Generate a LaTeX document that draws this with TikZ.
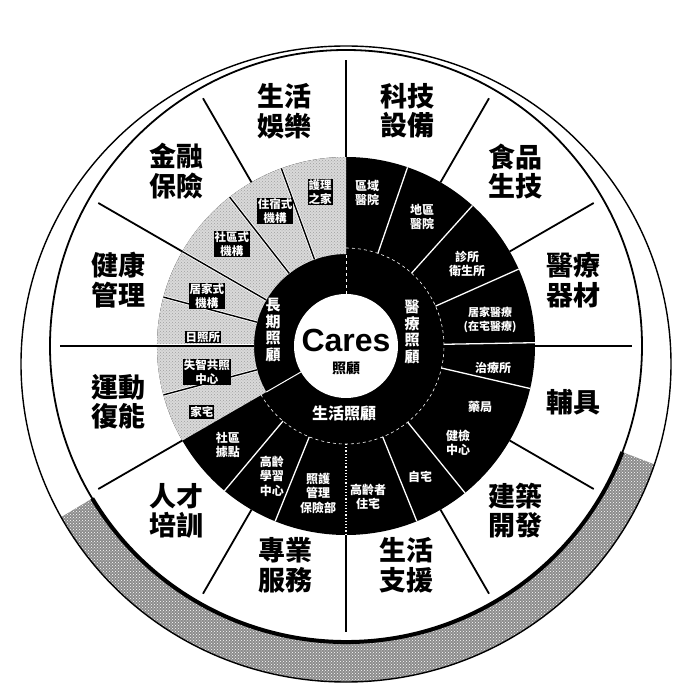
\documentclass[tikz,border=0pt]{standalone}
\usepackage{fontspec}
\newfontfamily\cjk{Noto Sans CJK TC}
\newfontfamily\latf{Liberation Sans}
\usetikzlibrary{calc,patterns}
\begin{document}
\begin{tikzpicture}[x=1pt,y=1pt,
  outerlbl/.style={font=\cjk\bfseries\fontsize{27}{29.5}\selectfont, align=center, inner sep=0pt},
  sublbl/.style={font=\cjk\bfseries\fontsize{12}{14.5}\selectfont, text=white, align=center, inner sep=0pt},
  greylbl/.style={font=\cjk\bfseries\fontsize{11.5}{13.5}\selectfont, text=white, fill=black, align=center, inner sep=1pt},
  ringlbl/.style={font=\cjk\bfseries\fontsize{15}{16.5}\selectfont, text=white, align=center, inner sep=0pt},
  spokeline/.style={line width=1.8pt},
  wdiv/.style={white, line width=1.3pt},
  gdivout/.style={white, line width=3pt},
  gdivin/.style={black, line width=1.4pt},
]
\useasboundingbox (-346,-341) rectangle (328,346);
\fill[white] (-346,-341) rectangle (328,346);

% outer disc with shaded lower rim
\begin{scope}
  \clip (0,0) -- (211:800) -- (240:800) -- (270:800) -- (300:800) -- (339:800) -- cycle;
  \fill[black!45, even odd rule] (0,-18) ellipse [x radius=325, y radius=318] (0,0) circle [radius=296];
  \fill[pattern=crosshatch dots, pattern color=white, even odd rule] (0,-18) ellipse [x radius=325, y radius=318] (0,0) circle [radius=296];
\end{scope}
\draw[line width=1.4pt] (0,-18) ellipse [x radius=325, y radius=318];
\draw[line width=1.8pt, fill=white] (0,0) circle [radius=296];
\draw[line width=4pt] (211:296) arc [start angle=211, end angle=339, radius=296];

% middle and inner rings
\fill[black] (0,0) circle [radius=189];
\fill[gray!30] (90:92) arc [start angle=90, end angle=210, radius=92]
  -- (210:189) arc [start angle=210, end angle=90, radius=189] -- cycle;
\fill[pattern=crosshatch dots, pattern color=gray!75] (90:92) arc [start angle=90, end angle=210, radius=92]
  -- (210:189) arc [start angle=210, end angle=90, radius=189] -- cycle;
\draw[white, dashed, line width=0.6pt] (90:98) arc [start angle=90, end angle=-150, radius=98];

% grey dividers
\foreach \a in {110,128,150,165,180,195} {
  \draw[gdivout] (\a:92) -- (\a:189);
  \draw[gdivin] (\a:92) -- (\a:189);
}
% white dividers in black part
\foreach \a in {71,48,24,1,-13,-51,-68,-112,-130} {
  \draw[wdiv] (\a:98) -- (\a:189);
}
\draw[white, line width=1.2pt, dotted] (-90:98) -- (-90:189);
\draw[white, line width=0.8pt, dashed] (90:52) -- (90:92);
\draw[white, line width=1pt] (210:52) -- (210:92);

% spokes
\foreach \a in {0,30,...,330} {
  \draw[spokeline] (\a:189) -- (\a:286);
}

% centre
\fill[white] (0,0) circle [radius=52];
\node[font=\latf\bfseries\fontsize{32}{32}\selectfont, inner sep=0pt] (cares) at (0,6) {Cares};
\node[font=\cjk\bfseries\fontsize{14}{14}\selectfont, inner sep=0pt] (caresz) at (0,-22) {照顧};

% inner ring labels
\node[ringlbl] (ltc) at (-73,16) {長\\期\\照\\顧};
\node[ringlbl] (med) at (66,14) {醫\\療\\照\\顧};
\node[ringlbl, font=\cjk\bfseries\fontsize{16}{16}\selectfont] (life) at (-2,-67) {生活照顧};

% medical sub-items
\node[sublbl] (m1) at (21,153) {區域\\醫院};
\node[sublbl] (m2) at (76,129) {地區\\醫院};
\node[sublbl] (m3) at (121,82) {診所\\衛生所};
\node[sublbl, font=\cjk\bfseries\fontsize{11}{14}\selectfont] (m4) at (144,26) {居家醫療\\(在宅醫療)};
\node[sublbl] (m5) at (147,-22) {治療所};
\node[sublbl] (m6) at (134,-61) {藥局};
\node[sublbl] (m7) at (112,-97) {健檢\\中心};
% life sub-items
\node[sublbl] (l1) at (74,-131) {自宅};
\node[sublbl] (l2) at (22,-151) {高齡者\\住宅};
\node[sublbl] (l3) at (-28,-147) {照護\\管理\\保險部};
\node[sublbl] (l4) at (-74,-130) {高齡\\學習\\中心};
\node[sublbl] (l5) at (-118,-99) {社區\\據點};
% long-term care sub-items
\node[greylbl] (g1) at (-26,154) {護理\\之家};
\node[greylbl] (g2) at (-71,135) {住宿式\\機構};
\node[greylbl] (g3) at (-114,102) {社區式\\機構};
\node[greylbl] (g4) at (-139,50) {居家式\\機構};
\node[greylbl] (g5) at (-143,9) {日照所};
\node[greylbl] (g6) at (-139,-26) {失智共照\\中心};
\node[greylbl] (g7) at (-144,-66) {家宅};

% outer labels
\node[outerlbl] (o1) at ($(15:236)+(0,5)$) {醫療\\器材};
\node[outerlbl] (o2) at ($(45:240)+(0,5)$) {食品\\生技};
\node[outerlbl] (o3) at ($(75:238)+(0,5)$) {科技\\設備};
\node[outerlbl] (o4) at ($(105:238)+(0,5)$) {生活\\娛樂};
\node[outerlbl] (o5) at ($(135:240)+(0,5)$) {金融\\保險};
\node[outerlbl] (o6) at ($(165:236)+(0,5)$) {健康\\管理};
\node[outerlbl] (o7) at ($(195:236)+(0,5)$) {運動\\復能};
\node[outerlbl] (o8) at ($(225:240)+(0,5)$) {人才\\培訓};
\node[outerlbl] (o9) at ($(255:232)+(0,5)$) {專業\\服務};
\node[outerlbl] (o10) at ($(285:232)+(0,5)$) {生活\\支援};
\node[outerlbl] (o11) at ($(315:240)+(0,5)$) {建築\\開發};
\node[outerlbl] (o12) at ($(345:236)+(0,5)$) {輔具};
\end{tikzpicture}
\end{document}
